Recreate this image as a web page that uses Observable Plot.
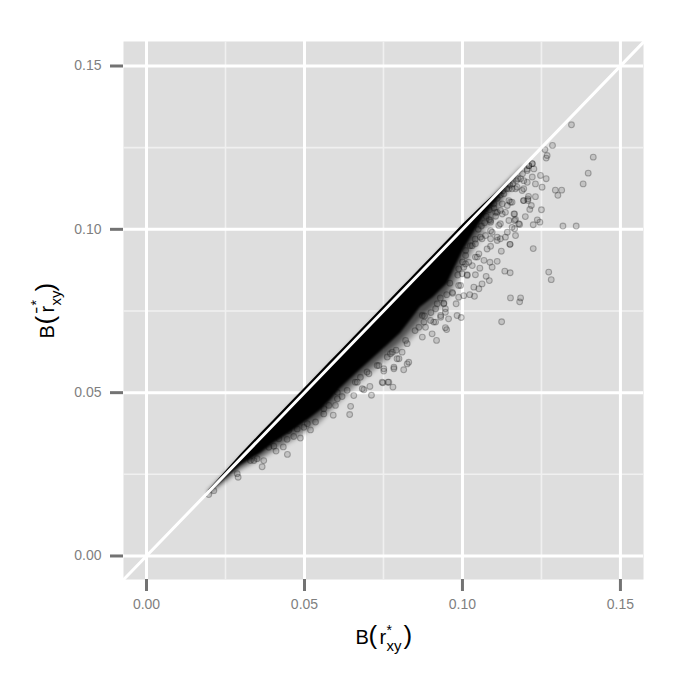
<!DOCTYPE html>
<html>
<head>
<meta charset="utf-8">
<script src="https://cdn.jsdelivr.net/npm/d3@7"></script>
<script src="https://cdn.jsdelivr.net/npm/@observablehq/plot@0.6"></script>
<style>html,body{margin:0;padding:0;background:#fff}svg{display:block}</style>
</head>
<body>
<div id="chart"></div>
<script>
const majorTicks = [0, 0.05, 0.10, 0.15];
const minorTicks = [0.025, 0.075, 0.125];
const xDomain = [-0.00728, 0.1573];
const yDomain = [-0.0072, 0.1575];
const diagonal = [-0.0073, 0.1573];

// Mass of overlapping points: edges and density falloff
const bandX =      [0.0196,0.0250,0.0298,0.0361,0.0402,0.0456,0.0510,0.0551,0.0582,0.0614,0.0668,0.0718,0.0763,0.0804,0.0836,0.0867,0.0908,0.0953,0.0972,0.1003,0.1035,0.1067,0.1111,0.1136,0.1165,0.1195];
const bandUpper =  [0.0200,0.0258,0.0310,0.0374,0.0415,0.0469,0.0523,0.0564,0.0595,0.0627,0.0681,0.0731,0.0776,0.0817,0.0849,0.0880,0.0921,0.0966,0.0985,0.1016,0.1046,0.1076,0.1114,0.1137,0.1166,0.1196];
const bandLower =  [0.0192,0.0237,0.0277,0.0314,0.0344,0.0378,0.0415,0.0445,0.0476,0.0513,0.0562,0.0605,0.0644,0.0681,0.0721,0.0761,0.0791,0.0834,0.0874,0.0935,0.0987,0.1036,0.1090,0.1128,0.1165,0.1195];
const fringeMid =  [0.0190,0.0231,0.0270,0.0303,0.0330,0.0362,0.0396,0.0425,0.0457,0.0491,0.0542,0.0583,0.0621,0.0655,0.0690,0.0725,0.0763,0.0808,0.0843,0.0904,0.0958,0.1008,0.1070,0.1115,0.1155,0.1190];
const fringeOuter =[0.0190,0.0225,0.0262,0.0292,0.0317,0.0347,0.0378,0.0406,0.0439,0.0470,0.0522,0.0562,0.0598,0.0629,0.0660,0.0690,0.0736,0.0782,0.0813,0.0874,0.0929,0.0981,0.1042,0.1095,0.1140,0.1185];

// Individually readable points
const pointX = [0.1345,0.1414,0.1398,0.1382,0.1285,0.1261,0.1268,0.1265,0.1221,0.1294,0.1314,0.1302,0.1265,0.1252,0.1231,0.1209,0.1193,0.1207,0.1218,0.1213,0.1250,0.1199,0.1165,0.1168,0.1237,0.1245,0.1224,0.1318,0.1360,0.1181,0.1165,0.1168,0.1224,0.1151,0.1123,0.1089,0.1134,0.1151,0.1273,0.1281,0.1152,0.1184,0.1181,0.1124,0.0996,0.0983,0.0950,0.0956,0.1085,0.1075,0.1062,0.1052,0.1038,0.1023,0.1004,0.0980,0.0969,0.0918,0.0873,0.0904,0.0931,0.0883,0.0915,0.0946,0.0941,0.1041,0.1015,0.0994,0.1087,0.1110,0.1094,0.1055,0.1068,0.1041,0.1073,0.1120,0.1136,0.1110,0.1142,0.1120,0.1089,0.1147,0.1120,0.1110,0.1152,0.1168,0.1147,0.1194,0.1205,0.1221,0.1231,0.1247,0.1205,0.1184,0.1226,0.1210,0.1131,0.1126,0.1099,0.1089,0.1062,0.1041,0.1052,0.1020,0.0988,0.1004,0.0197,0.0213,0.0290,0.0287,0.0366,0.0371,0.0340,0.0446,0.0410,0.0433,0.0403,0.0487,0.0466,0.0445,0.0519,0.0535,0.0498,0.0591,0.0643,0.0646,0.0598,0.0561,0.0604,0.0656,0.0712,0.0683,0.0780,0.0764,0.0748,0.0707,0.0814,0.0783,0.0751,0.0825,0.0735,0.0772,0.0799,0.0698,0.0661,
  0.1089,0.1150,0.1163,0.1178,0.1165,0.1110,0.1078,0.1094,0.1115,0.1057,0.1031,0.1157,0.1173,0.1147,0.1189,0.1126,0.1089,0.1047,0.1010,0.1157,0.1136,0.1105,0.1142,0.1157,0.1194,0.1171,0.1194,0.1207,
  0.0941,0.0915,0.0968,0.0988,0.1015,0.1036,0.0946,0.0931,0.0873,0.0899,0.0878,0.0909,0.0946,0.0999,0.1010,0.1031,0.0988,0.0920,0.0862,
  0.0746,0.0767,0.0783,0.0751,0.0704,0.0688,0.0667,0.0635,0.0604,0.0619,0.0730,0.0762,0.0793,0.0809,0.0830,0.0778,0.0825,0.0677,
  0.0350,0.0329,0.0509,0.0477,0.0450,0.0419,0.0387,0.0561,0.0577,
  0.1210,0.1221,0.1160,0.1175,0.1190,0.1205,0.1150,0.1140,0.1128,0.1120,0.1110,
  0.1100,0.1085,0.1075,0.1070,0.1085,0.1105,0.1060,0.1050,0.1040,0.1025,0.1010,0.1000,0.0985,0.0960,0.0950,0.0930,0.0900,0.0880,0.0850,0.0820,0.0790];
const pointY = [0.1320,0.1221,0.1172,0.1139,0.1257,0.1244,0.1226,0.1218,0.1201,0.1120,0.1120,0.1104,0.1155,0.1129,0.1100,0.1101,0.1088,0.1088,0.1073,0.1061,0.1060,0.1039,0.1047,0.1030,0.1029,0.1022,0.1014,0.1010,0.1010,0.1015,0.1002,0.0981,0.0941,0.0954,0.0933,0.0948,0.0872,0.0867,0.0869,0.0846,0.0790,0.0790,0.0778,0.0717,0.0730,0.0736,0.0693,0.0726,0.0843,0.0856,0.0833,0.0818,0.0795,0.0800,0.0797,0.0772,0.0804,0.0660,0.0670,0.0680,0.0731,0.0700,0.0716,0.0757,0.0774,0.0861,0.0861,0.0828,0.0899,0.0902,0.0884,0.0881,0.0905,0.0915,0.0981,0.0971,0.0976,0.0976,0.0991,0.1017,0.0996,0.1027,0.1058,0.1052,0.1083,0.1124,0.1124,0.1124,0.1144,0.1160,0.1139,0.1165,0.1180,0.1155,0.1185,0.1195,0.1109,0.1078,0.1078,0.1027,0.0971,0.0956,0.0925,0.0899,0.0879,0.0884,0.0188,0.0200,0.0241,0.0252,0.0273,0.0292,0.0292,0.0311,0.0321,0.0334,0.0336,0.0361,0.0366,0.0357,0.0386,0.0410,0.0394,0.0431,0.0433,0.0458,0.0461,0.0451,0.0481,0.0491,0.0492,0.0512,0.0517,0.0532,0.0530,0.0519,0.0570,0.0573,0.0566,0.0588,0.0583,0.0619,0.0604,0.0563,0.0532,
  0.1022,0.0954,0.1047,0.1017,0.1027,0.0966,0.0940,0.0991,0.1012,0.0976,0.0950,0.1124,0.1129,0.1088,0.1119,0.1047,0.0971,0.0915,0.0920,0.1006,0.1052,0.1052,0.1073,0.1083,0.1088,0.1149,0.1149,0.1093,
  0.0772,0.0757,0.0807,0.0828,0.0859,0.0823,0.0746,0.0736,0.0736,0.0721,0.0716,0.0716,0.0699,0.0864,0.0894,0.0889,0.0792,0.0772,0.0700,
  0.0532,0.0532,0.0578,0.0573,0.0558,0.0509,0.0532,0.0507,0.0501,0.0488,0.0583,0.0609,0.0604,0.0624,0.0593,0.0624,0.0650,0.0547,
  0.0298,0.0292,0.0405,0.0389,0.0384,0.0359,0.0333,0.0435,0.0461,
  0.1195,0.1201,0.1140,0.1155,0.1170,0.1185,0.1135,0.1125,0.1118,0.1105,0.1095,
  0.1065,0.1060,0.1040,0.1020,0.1030,0.1040,0.1010,0.1000,0.0970,0.0950,0.0935,0.0900,0.0860,0.0835,0.0800,0.0790,0.0745,0.0735,0.0690,0.0660,0.0630];

const band = bandX.map((x, i) => ({x, hi: bandUpper[i], lo: bandLower[i], mid: fringeMid[i], outer: fringeOuter[i]}));
const points = pointX.map((x, i) => ({x, y: pointY[i]}));

const tickGrey = "#737373";
const labelGrey = "#7f7f7f";
const font = "Liberation Sans, Arial, Helvetica, sans-serif";
const titleBit = (t, size, dx, dy, extra = {}) =>
  Plot.text([t], {text: d => d, frameAnchor: "top-left", textAnchor: "start", lineAnchor: "bottom",
    dx, dy, fontSize: size, fill: "#000", ...extra});

const chart = Plot.plot({
  width: 685,
  height: 685,
  marginLeft: 123,
  marginRight: 42,
  marginTop: 41,
  marginBottom: 106,
  style: {fontFamily: font, background: "#fff"},
  x: {domain: xDomain, label: null},
  y: {domain: yDomain, label: null},
  marks: [
    Plot.frame({fill: "#dedede", stroke: null}),
    Plot.ruleX(minorTicks, {stroke: "#f0f0f0", strokeWidth: 1.6}),
    Plot.ruleY(minorTicks, {stroke: "#f0f0f0", strokeWidth: 1.6}),
    Plot.ruleX(majorTicks, {stroke: "#fff", strokeWidth: 3}),
    Plot.ruleY(majorTicks, {stroke: "#fff", strokeWidth: 3}),
    Plot.areaY(band, {x: "x", y1: "outer", y2: "x", fill: "#000", fillOpacity: 0.3, imageFilter: "blur(2px)"}),
    Plot.areaY(band, {x: "x", y1: "mid", y2: "x", fill: "#000", fillOpacity: 0.5, imageFilter: "blur(2px)"}),
    Plot.dot(points, {x: "x", y: "y", r: 2.9, fill: "#000", fillOpacity: 0.12, stroke: "#000", strokeOpacity: 0.27, strokeWidth: 1.1, imageFilter: "blur(0.3px)"}),
    Plot.areaY(band, {x: "x", y1: "lo", y2: "x", fill: "#000", imageFilter: "blur(0.8px)"}),
    Plot.areaY(band, {x: "x", y1: "x", y2: "hi", fill: "#000"}),
    Plot.line(diagonal, {x: d => d, y: d => d, stroke: "#fff", strokeWidth: 3}),
    Plot.axisX({ticks: majorTicks, tickFormat: ".2f", tickSize: 12, tickPadding: 8, stroke: tickGrey, strokeWidth: 3, fill: labelGrey, fontSize: 14, label: null}),
    Plot.axisY({ticks: majorTicks, tickFormat: ".2f", tickSize: 13, tickPadding: 9, stroke: tickGrey, strokeWidth: 3, fill: labelGrey, fontSize: 14, label: null}),
    // x title: B(r*xy)
    titleBit("B", 20, 232, 602),
    titleBit("(", 26, 245, 602),
    titleBit("r", 20, 256, 602),
    titleBit("*", 14, 263, 593),
    titleBit("xy", 15, 263, 609),
    titleBit(")", 26, 280, 602),
    // y title: B(r̄*xy)
    titleBit("B", 20, -70, 297, {rotate: -90}),
    titleBit("(", 26, -70, 283, {rotate: -90}),
    titleBit("r\u0304", 20, -70, 271, {rotate: -90}),
    titleBit("*", 14, -83, 264, {rotate: -90}),
    titleBit("xy", 15, -63, 264, {rotate: -90}),
    titleBit(")", 26, -70, 250, {rotate: -90})
  ]
});
document.getElementById("chart").append(chart);
</script>
</body>
</html>
